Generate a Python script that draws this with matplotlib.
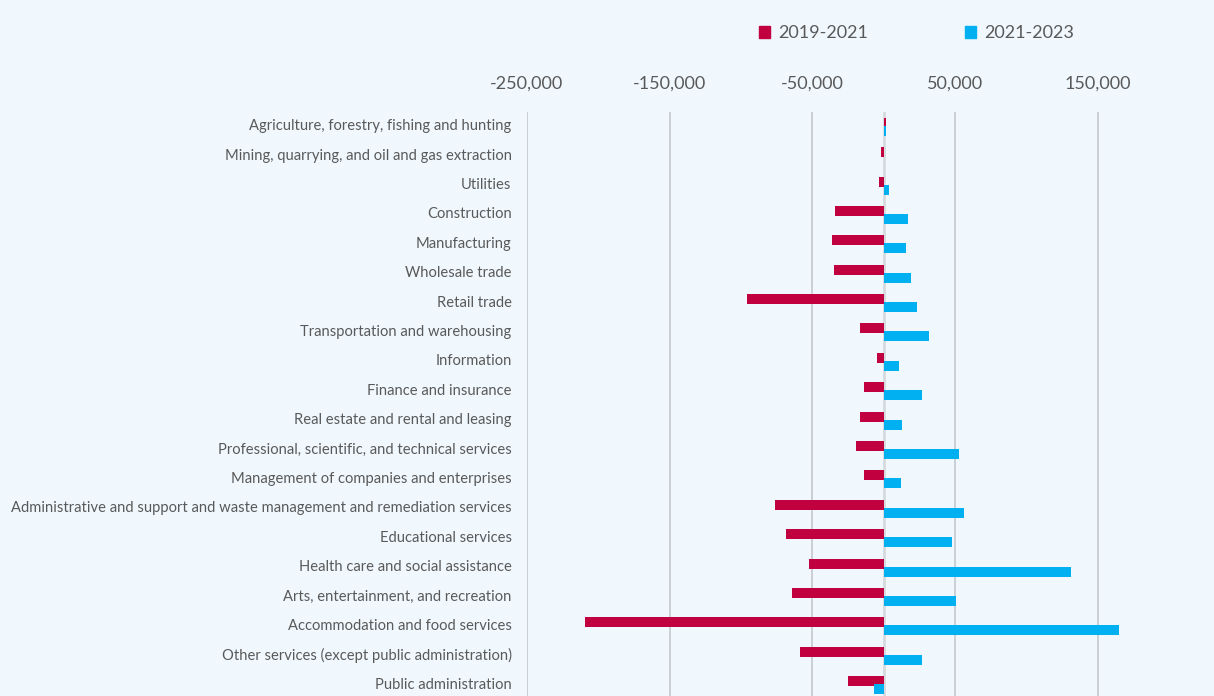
import matplotlib.pyplot as plt
from matplotlib.patches import Patch
from matplotlib.ticker import FuncFormatter

# Change in employment by industry
industries = [
    "Agriculture, forestry, fishing and hunting",
    "Mining, quarrying, and oil and gas extraction",
    "Utilities",
    "Construction",
    "Manufacturing",
    "Wholesale trade",
    "Retail trade",
    "Transportation and warehousing",
    "Information",
    "Finance and insurance",
    "Real estate and rental and leasing",
    "Professional, scientific, and technical services",
    "Management of companies and enterprises",
    "Administrative and support and waste management and remediation services",
    "Educational services",
    "Health care and social assistance",
    "Arts, entertainment, and recreation",
    "Accommodation and food services",
    "Other services (except public administration)",
    "Public administration",
]
change_2019_2021 = [2000, -1500, -3000, -33800, -36200, -34800, -95600, -16300, -4600, -14000,
                    -16300, -19100, -14000, -76300, -68300, -52000, -64100, -209400, -58300, -25200]
change_2021_2023 = [2000, 500, 3800, 16800, 15900, 18900, 23400, 31500, 11000, 26900,
                    13100, 52500, 12200, 56000, 48100, 131200, 50400, 165000, 27100, -7000]
x_ticks = [-250000, -150000, -50000, 50000, 150000]

RED = '#C0003F'
BLUE = '#00B0F0'
BG = '#F0F8FE'
TEXT = '#595959'

plt.rcParams['font.family'] = ['Lato', 'DejaVu Sans']

fig = plt.figure(figsize=(12.14, 6.96), dpi=100, facecolor=BG)
ax = fig.add_axes([0.434, 0.0, 0.566, 0.839], facecolor=BG)

pos = list(range(len(industries)))
bar_h = 0.34
off = 0.136
ax.barh([p - off for p in pos], change_2019_2021, height=bar_h, color=RED, zorder=3)
ax.barh([p + off for p in pos], change_2021_2023, height=bar_h, color=BLUE, zorder=3)

ax.set_xticks(x_ticks)
ax.xaxis.set_major_formatter(FuncFormatter(lambda v, _: f"{int(v):,}"))
ax.xaxis.tick_top()
ax.tick_params(axis='x', length=0, pad=15, labelsize=13, labelcolor=TEXT)
ax.grid(axis='x', color='#C8CCD0', linewidth=1.3, zorder=0)
ax.axvline(0, color='#D6DADE', linewidth=2, zorder=2)

ax.set_yticks([p - 0.07 for p in pos])
ax.set_yticklabels(industries)
ax.tick_params(axis='y', length=0, pad=11, labelsize=10.6, labelcolor=TEXT)

ax.set_xlim(-250000, 231500)
ax.set_ylim(19.37, -0.5)

for s in ax.spines.values():
    s.set_visible(False)

handles = [Patch(color=RED, label='2019-2021'), Patch(color=BLUE, label='2021-2023')]
fig.legend(handles=handles, loc='center', bbox_to_anchor=(0.755, 0.952), ncol=2,
           frameon=False, fontsize=13, labelcolor=TEXT, handlelength=0.6, handleheight=0.6,
           handletextpad=0.45, columnspacing=5.4)

fig.savefig('out.png', dpi=100, facecolor=BG)
